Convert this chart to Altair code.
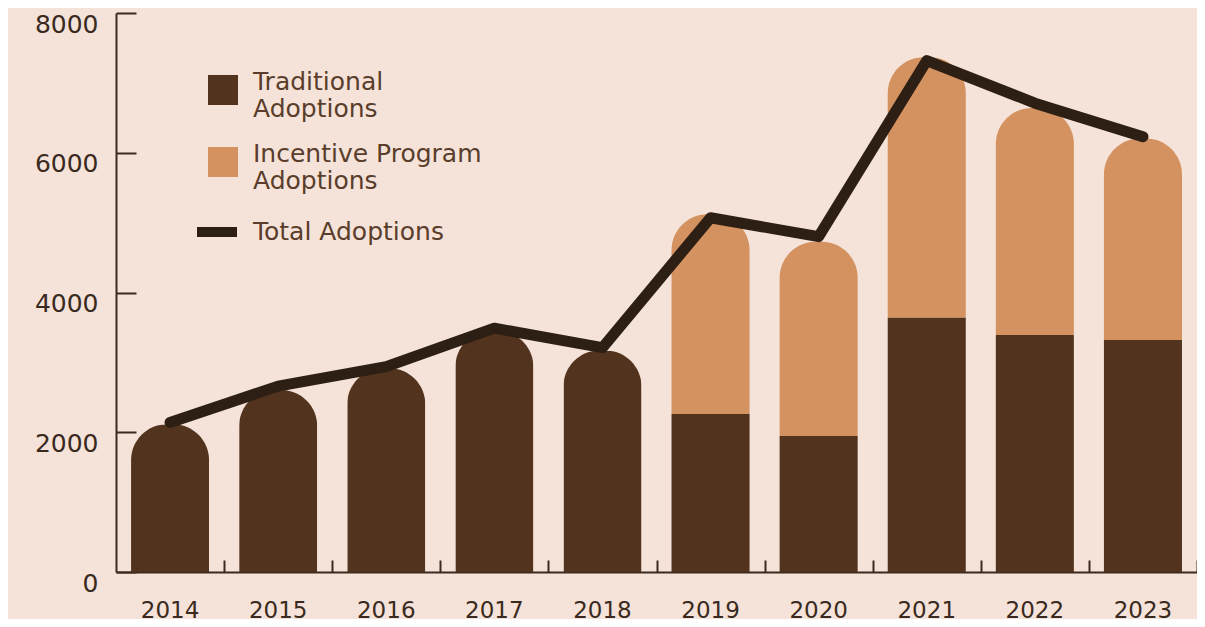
import altair as alt
import pandas as pd

years = ["2014", "2015", "2016", "2017", "2018", "2019", "2020", "2021", "2022", "2023"]
traditional = [2115, 2605, 2915, 3450, 3170, 2260, 1945, 3640, 3390, 3320]
incentive = [0, 0, 0, 0, 0, 2860, 2780, 3725, 3250, 2885]
total_line = [2140, 2660, 2940, 3490, 3210, 5070, 4800, 7320, 6710, 6230]
y_ticks = [0, 2000, 4000, 6000, 8000]

BG = "#F5E3D9"
DARK = "#52341E"
ORANGE = "#D49260"
LINE = "#2E1F14"
AXIS = "#3A2A1E"
LEGTXT = "#5A3D2A"
FONT = "DejaVu Sans"

W, H = 1081, 559
PAD_INNER = 0.278

df = pd.DataFrame({
    "year": years,
    "traditional": traditional,
    "incentive": incentive,
    "total_line": total_line,
})

xscale = alt.Scale(paddingInner=PAD_INNER, paddingOuter=PAD_INNER / 2)
yscale = alt.Scale(domain=[0, 8000], nice=False)
step = W / len(years)

color_scale = alt.Scale(domain=["Traditional Adoptions", "Incentive Program Adoptions"],
                        range=[DARK, ORANGE])
color_legend = alt.Legend(
    orient="none", legendX=92, legendY=62, title=None, padding=0,
    symbolType="square", symbolSize=900, symbolStrokeWidth=0,
    labelExpr="datum.label == 'Traditional Adoptions' ? ['Traditional', 'Adoptions'] : ['Incentive Program', 'Adoptions']",
    labelFont=FONT, labelFontSize=25, labelColor=LEGTXT, labelOffset=15,
    labelBaseline="alphabetic", labelLimit=400, rowPadding=20,
)
stroke_scale = alt.Scale(domain=["Total Adoptions"], range=[LINE])
stroke_legend = alt.Legend(
    orient="none", legendX=76, legendY=194, title=None, padding=0,
    symbolType="stroke", symbolSize=1600, symbolStrokeWidth=10,
    labelFont=FONT, labelFontSize=25, labelColor=LEGTXT, labelOffset=11,
    labelLimit=400,
)

x_main_axis = alt.Axis(orient="bottom", title=None, ticks=False, domain=True,
                       domainColor=AXIS, domainWidth=2, labelAngle=0,
                       labelFont=FONT, labelFontSize=23, labelColor=AXIS,
                       labelPadding=27, grid=False)
y_main_axis = alt.Axis(orient="left", title=None, ticks=False, domain=True,
                       domainColor=AXIS, domainWidth=2, values=y_ticks, format="d",
                       labelFont=FONT, labelFontSize=25, labelColor=AXIS,
                       labelPadding=18, labelOffset=11, grid=False)
x_tick_axis = alt.Axis(orient="top", offset=-H, title=None, labels=False, domain=False,
                       ticks=True, tickSize=12, tickWidth=2, tickColor=AXIS,
                       bandPosition=1, tickExtra=False, tickOffset=step * PAD_INNER / 2,
                       grid=False)
y_tick_axis = alt.Axis(orient="right", offset=-W, title=None, labels=False, domain=False,
                       ticks=True, tickSize=20, tickWidth=2, tickColor=AXIS,
                       values=y_ticks, grid=False)

base = alt.Chart(df)

dark_top = base.transform_filter("datum.incentive == 0").transform_calculate(
    series="'Traditional Adoptions'"
).mark_bar(
    cornerRadiusTopLeft=36, cornerRadiusTopRight=36
).encode(
    x=alt.X("year:O", scale=xscale, axis=x_main_axis),
    y=alt.Y("traditional:Q", scale=yscale, axis=y_main_axis),
    color=alt.Color("series:N", scale=color_scale, legend=color_legend),
)

orange_top = base.transform_filter("datum.incentive > 0").transform_calculate(
    bar_total="datum.traditional + datum.incentive",
    series="'Incentive Program Adoptions'",
).mark_bar(
    cornerRadiusTopLeft=36, cornerRadiusTopRight=36
).encode(
    x=alt.X("year:O", scale=xscale, axis=None),
    y=alt.Y("bar_total:Q", scale=yscale, axis=None),
    y2=alt.Y2("traditional:Q"),
    color=alt.Color("series:N", scale=color_scale, legend=color_legend),
)

dark_base = base.transform_filter("datum.incentive > 0").transform_calculate(
    series="'Traditional Adoptions'"
).mark_bar().encode(
    x=alt.X("year:O", scale=xscale, axis=None),
    y=alt.Y("traditional:Q", scale=yscale, axis=None),
    color=alt.Color("series:N", scale=color_scale, legend=color_legend),
)

line = base.transform_calculate(series="'Total Adoptions'").mark_line(
    strokeWidth=11, strokeCap="round", strokeJoin="round"
).encode(
    x=alt.X("year:O", scale=xscale, axis=x_tick_axis),
    y=alt.Y("total_line:Q", scale=yscale, axis=y_tick_axis),
    stroke=alt.Stroke("series:N", scale=stroke_scale, legend=stroke_legend),
)

chart = alt.layer(orange_top, dark_top, dark_base, line).properties(
    width=W, height=H, background=BG,
    padding={"left": 108, "top": 5, "right": 0, "bottom": 47},
    autosize=alt.AutoSizeParams(type="none"),
).configure_view(stroke=None)

chart.save("out.html", embed_options={"renderer": "svg", "actions": False})
